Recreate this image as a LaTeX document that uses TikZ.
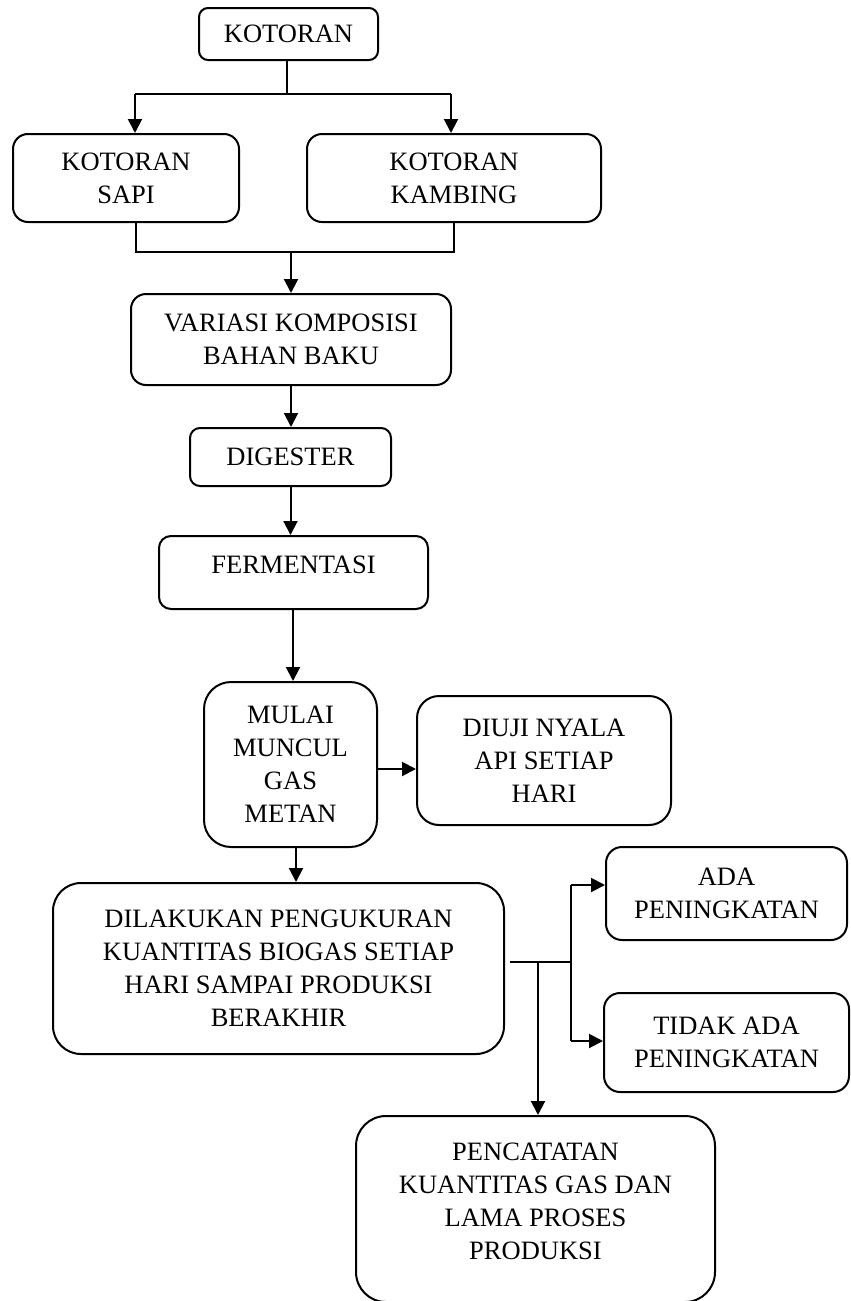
\documentclass[tikz,border=0pt]{standalone}
\usepackage{fontspec}
\setmainfont{Liberation Serif}
\usetikzlibrary{arrows.meta}
\begin{document}
\begin{tikzpicture}[x=1pt,y=-1pt,
  box/.style={draw, line width=2pt, align=center, inner sep=0pt, font=\fontsize{26.5}{33}\selectfont},
  arr/.style={line width=2pt, -{Triangle[length=14pt,width=14pt]}},
  ln/.style={line width=2pt},
  thinln/.style={line width=1.3pt}]
\useasboundingbox (0,0) rectangle (851,1301);
\node[box, minimum width=179pt, minimum height=52pt, rounded corners=9pt] (K) at (288.5,34) {KOTORAN};
\node[box, minimum width=226pt, minimum height=88pt, rounded corners=15pt] (SAPI) at (126,178) {KOTORAN\\SAPI};
\node[box, minimum width=294pt, minimum height=88pt, rounded corners=15pt] (KAMB) at (454,178) {KOTORAN\\KAMBING};
\node[box, minimum width=320pt, minimum height=91pt, rounded corners=15pt] (VAR) at (291,339.5) {VARIASI KOMPOSISI\\BAHAN BAKU};
\node[box, minimum width=201pt, minimum height=58pt, rounded corners=10pt] (DIG) at (290.5,457) {DIGESTER};
\node[box, minimum width=269pt, minimum height=73pt, rounded corners=12pt] (FER) at (293.5,572.5) {\raisebox{8pt}[\height][\depth]{FERMENTASI}};
\node[box, minimum width=173pt, minimum height=165pt, rounded corners=27pt] (MUL) at (290.5,764.5) {MULAI\\MUNCUL\\GAS\\METAN};
\node[box, minimum width=254pt, minimum height=129pt, rounded corners=22pt] (DIU) at (544,760.5) {DIUJI NYALA\\API SETIAP\\HARI};
\node[box, minimum width=451pt, minimum height=171pt, rounded corners=28pt] (DIL) at (278.5,968.5) {DILAKUKAN PENGUKURAN\\KUANTITAS BIOGAS SETIAP\\HARI SAMPAI PRODUKSI\\BERAKHIR};
\node[box, minimum width=241pt, minimum height=93pt, rounded corners=16pt] (ADA) at (726.5,893.5) {ADA\\PENINGKATAN};
\node[box, minimum width=245pt, minimum height=99pt, rounded corners=16pt] (TID) at (726.5,1042.5) {TIDAK ADA\\PENINGKATAN};
\node[box, minimum width=359pt, minimum height=186pt, rounded corners=30pt] (PEN) at (535.5,1209) {\raisebox{6pt}[\height][\depth]{\begin{tabular}{@{}c@{}}PENCATATAN\\KUANTITAS GAS DAN\\LAMA PROSES\\PRODUKSI\end{tabular}}};
% top split
\coordinate (kj) at (287,94);
\coordinate (kl) at (135,94);
\coordinate (kr) at (451,94);
\draw[ln] (kj |- K.south) -- (kj);
\draw[ln] (kl) -- (kr);
\draw[arr] (kl) -- (kl |- SAPI.north);
\draw[arr] (kr) -- (kr |- KAMB.north);
% merge
\coordinate (bl) at (136,252);
\coordinate (br) at (454,252);
\coordinate (bm) at (291,252);
\draw[thinln] (bl |- SAPI.south) -- (bl) -- (br) -- (br |- KAMB.south);
\draw[arr] (bm) -- (bm |- VAR.north);
% main column
\draw[arr] (VAR.south) -- (VAR.south |- DIG.north);
\draw[arr] (DIG.south) -- (DIG.south |- FER.north);
\coordinate (fs) at (293,609);
\draw[arr] (fs) -- (fs |- MUL.north);
\coordinate (me) at (377,769);
\draw[arr] (me) -- (me -| DIU.west);
\coordinate (ms) at (296,847);
\draw[arr] (ms) -- (ms |- DIL.north);
% right branches
\coordinate (d0) at (510,962);
\coordinate (dv) at (571,962);
\coordinate (dt) at (571,885);
\coordinate (db) at (571,1041);
\coordinate (dp) at (538,962);
\draw[ln] (d0) -- (dv);
\draw[ln] (dt) -- (db);
\draw[arr] (dt) -- (dt -| ADA.west);
\draw[arr] (db) -- (db -| TID.west);
\draw[arr] (dp) -- (dp |- PEN.north);
\end{tikzpicture}
\end{document}
